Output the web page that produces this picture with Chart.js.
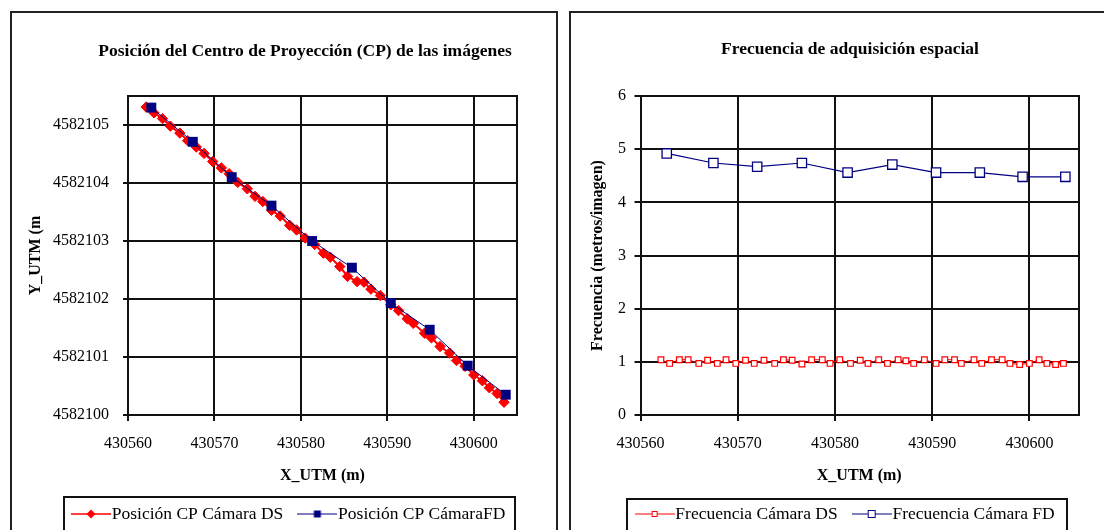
<!DOCTYPE html>
<html>
<head>
<meta charset="utf-8">
<script src="https://cdn.jsdelivr.net/npm/chart.js@4.4.1/dist/chart.umd.min.js"></script>
<style>
  html, body { margin: 0; padding: 0; background: #fff; }
  body { width: 1104px; height: 530px; position: relative; overflow: hidden; }
  .panel { position: absolute; top: 0; height: 530px; }
  #left { left: 0; width: 560px; }
  #right { left: 560px; width: 544px; }
</style>
</head>
<body>
<div class="panel" id="left"><canvas id="cpChart"></canvas></div>
<div class="panel" id="right"><canvas id="freqChart"></canvas></div>
<script>
// Valeurs
// Cámara DS : positions X/Y du centre de projection + fréquence
const dsX = [
  430562.1, 430563.0, 430564.0, 430564.9, 430566.0, 430566.9, 430567.9, 430568.8, 430569.8, 430570.8,
  430571.7, 430572.7, 430573.8, 430574.7, 430575.6, 430576.6, 430577.6, 430578.7, 430579.5, 430580.5,
  430581.6, 430582.6, 430583.4, 430584.5, 430585.4, 430586.5, 430587.3, 430588.1, 430589.2, 430590.4,
  430591.3, 430592.3, 430593.0, 430594.3, 430595.1, 430596.1, 430597.2, 430598.0, 430599.0, 430600.0,
  430601.0, 430601.8, 430602.7, 430603.5
];
const dsY = [
  4582105.31, 4582105.21, 4582105.11, 4582104.98, 4582104.86, 4582104.73, 4582104.62, 4582104.51, 4582104.37, 4582104.26,
  4582104.16, 4582104.01, 4582103.90, 4582103.77, 4582103.68, 4582103.53, 4582103.43, 4582103.27, 4582103.19, 4582103.05,
  4582102.94, 4582102.79, 4582102.72, 4582102.56, 4582102.39, 4582102.30, 4582102.29, 4582102.17, 4582102.06, 4582101.90,
  4582101.80, 4582101.66, 4582101.58, 4582101.41, 4582101.33, 4582101.18, 4582101.07, 4582100.94, 4582100.84, 4582100.69,
  4582100.59, 4582100.47, 4582100.37, 4582100.22
];
const dsFreq = [
  1.04, 0.97, 1.04, 1.04, 0.97, 1.03, 0.97, 1.04, 0.97, 1.03,
  0.97, 1.03, 0.97, 1.04, 1.03, 0.96, 1.04, 1.04, 0.97, 1.04,
  0.97, 1.03, 0.97, 1.04, 0.97, 1.04, 1.02, 0.97, 1.04, 0.97,
  1.04, 1.04, 0.97, 1.04, 0.97, 1.04, 1.04, 0.97, 0.95, 0.97,
  1.04, 0.97, 0.95, 0.97
];

// Cámara FD
const fdX = [430562.7, 430567.5, 430572.0, 430576.6, 430581.3, 430585.9, 430590.4, 430594.9, 430599.3, 430603.7];
const fdY = [4582105.30, 4582104.71, 4582104.10, 4582103.61, 4582103.00, 4582102.54, 4582101.93, 4582101.47, 4582100.85, 4582100.35];
const fdFreq = [4.92, 4.74, 4.67, 4.74, 4.56, 4.71, 4.56, 4.56, 4.48, 4.48];

const cpLabels = ['Posición CP Cámara DS', 'Posición CP CámaraFD'];
const freqLabels = ['Frecuencia Cámara DS', 'Frecuencia Cámara FD'];

const RED = '#ff0000';
const NAVY = '#000080';
const INK = '#111';
const SERIF = '"Liberation Serif", "DejaVu Serif", serif';
const LEGEND_SIZE = 17.5;
const LEGEND_PAD = 22;

Chart.defaults.font.family = SERIF;
Chart.defaults.color = '#000';

const pts = (xs, ys) => xs.map((x, i) => ({ x, y: ys[i] }));

/**
 * Petit canvas "ligne + marqueur" utilisé comme symbole de légende
 */
function legendSample(color, shape, lineWidth) {
  const c = document.createElement('canvas');
  c.width = 40;
  c.height = 16;
  const g = c.getContext('2d');
  g.strokeStyle = color;
  g.lineWidth = lineWidth;
  g.beginPath();
  g.moveTo(0, 8);
  g.lineTo(40, 8);
  g.stroke();
  g.lineWidth = 1;
  if (shape === 'diamond') {
    g.fillStyle = color;
    g.beginPath();
    g.moveTo(20, 3.5); g.lineTo(24.5, 8); g.lineTo(20, 12.5); g.lineTo(15.5, 8);
    g.closePath();
    g.fill();
  } else if (shape === 'square') {
    g.fillStyle = color;
    g.fillRect(16.5, 4.5, 7, 7);
  } else if (shape === 'openSmall') {
    g.fillStyle = '#fff';
    g.fillRect(17.5, 5.5, 5, 5);
    g.strokeRect(17.5, 5.5, 5, 5);
  } else {
    g.fillStyle = '#fff';
    g.fillRect(16.5, 4.5, 7, 7);
    g.strokeRect(16.5, 4.5, 7, 7);
  }
  return c;
}

/**
 * Cadre du panneau, bordure de la zone de tracé, placement titre / légende
 */
function panelPlugin(cfg) {
  return {
    id: 'panelDeco',
    afterLayout(chart) {
      const t = chart.titleBlock;
      if (t) {
        t.left = cfg.titleX - 300;
        t.right = cfg.titleX + 300;
        t.width = 600;
        t.top = cfg.titleY - t.height / 2;
        t.bottom = t.top + t.height;
      }
      const lg = chart.legend;
      if (lg) {
        lg.left = cfg.legendX - LEGEND_PAD;
        lg.right = lg.left + lg.width;
        lg.top = cfg.legendY - LEGEND_PAD - LEGEND_SIZE / 2;
        lg.bottom = lg.top + lg.height;
      }
    },
    beforeDraw(chart) {
      const ctx = chart.ctx;
      ctx.save();
      ctx.strokeStyle = '#222';
      ctx.lineWidth = 2;
      ctx.strokeRect(cfg.frame.x, cfg.frame.y, cfg.frame.w, cfg.frame.h);
      ctx.restore();
    },
    beforeDatasetsDraw(chart) {
      const { ctx, chartArea: a } = chart;
      ctx.save();
      ctx.strokeStyle = INK;
      ctx.lineWidth = 2;
      ctx.strokeRect(Math.round(a.left), Math.round(a.top), Math.round(a.right - a.left), Math.round(a.bottom - a.top));
      ctx.restore();
    },
    afterDraw(chart) {
      const hb = chart.legend && chart.legend.legendHitBoxes;
      if (!hb || !hb.length) return;
      const last = hb[hb.length - 1];
      const x1 = Math.round(hb[0].left - 15.5);
      const x2 = Math.round(last.left + last.width + cfg.legendRightPad);
      const ctx = chart.ctx;
      ctx.save();
      ctx.strokeStyle = INK;
      ctx.lineWidth = 2;
      ctx.strokeRect(x1, cfg.legendBoxTop, x2 - x1, 60);
      ctx.restore();
    }
  };
}

function xAxis() {
  return {
    type: 'linear',
    position: 'bottom',
    min: 430560,
    max: 430605,
    ticks: { stepSize: 10, includeBounds: false, padding: 13, font: { size: 16 }, color: '#000', callback: v => String(v) },
    grid: { color: INK, lineWidth: 2, tickLength: 6, tickColor: INK },
    border: { color: INK, width: 2 },
    title: { display: true, text: 'X_UTM (m)', color: '#000', font: { size: 16, weight: 'bold', lineHeight: 0.6 }, padding: 0 },
    afterFit(s) { s.height = 65.5; }
  };
}

function legendOptions(samples) {
  return {
    display: true,
    position: 'bottom',
    align: 'start',
    labels: {
      usePointStyle: true,
      pointStyleWidth: 24,
      padding: LEGEND_PAD,
      color: '#000',
      font: { size: LEGEND_SIZE },
      sort: (a, b) => a.datasetIndex - b.datasetIndex,
      generateLabels(chart) {
        const items = Chart.defaults.plugins.legend.labels.generateLabels(chart);
        items.forEach(it => { it.pointStyle = samples[it.datasetIndex]; });
        return items;
      }
    }
  };
}

function titleOptions(text) {
  return { display: true, text, color: '#000', font: { size: 17.5, weight: 'bold' }, padding: 0 };
}

// ---- Graphique 1 : position du centre de projection ----
new Chart(document.getElementById('cpChart'), {
  type: 'scatter',
  data: {
    datasets: [
      {
        label: cpLabels[0],
        data: pts(dsX, dsY),
        showLine: true,
        borderColor: RED,
        borderWidth: 2,
        pointStyle: 'rectRot',
        pointRadius: 5.2,
        pointBackgroundColor: RED,
        pointBorderColor: RED,
        pointBorderWidth: 1,
        order: 1
      },
      {
        label: cpLabels[1],
        data: pts(fdX, fdY),
        showLine: true,
        borderColor: NAVY,
        borderWidth: 1,
        pointStyle: 'rect',
        pointRadius: 7,
        pointBackgroundColor: NAVY,
        pointBorderColor: NAVY,
        pointBorderWidth: 0,
        order: 0
      }
    ]
  },
  options: {
    responsive: true,
    maintainAspectRatio: false,
    animation: false,
    events: [],
    layout: { padding: { top: 75, left: 20, right: 43, bottom: 0 } },
    scales: {
      x: xAxis(),
      y: {
        type: 'linear',
        position: 'left',
        min: 4582100,
        max: 4582105.5,
        ticks: { stepSize: 1, includeBounds: false, padding: 14, font: { size: 16 }, color: '#000', callback: v => String(v) },
        grid: { color: INK, lineWidth: 2, tickLength: 5, tickColor: INK },
        border: { color: INK, width: 2 },
        title: { display: true, text: 'Y_UTM (m', color: '#000', font: { size: 16, weight: 'bold' }, padding: { top: 6.4, bottom: 0 } },
        afterFit(s) { s.width = 108; }
      }
    },
    plugins: {
      title: titleOptions('Posición del Centro de Proyección (CP) de las imágenes'),
      legend: legendOptions([legendSample(RED, 'diamond', 1.5), legendSample(NAVY, 'square', 1)]),
      tooltip: { enabled: false }
    }
  },
  plugins: [panelPlugin({
    titleX: 305, titleY: 51,
    legendX: 79, legendY: 514,
    legendBoxTop: 497, legendRightPad: 10,
    frame: { x: 11, y: 12, w: 546, h: 540 }
  })]
});

// ---- Graphique 2 : fréquence d'acquisition ----
new Chart(document.getElementById('freqChart'), {
  type: 'scatter',
  data: {
    datasets: [
      {
        label: freqLabels[0],
        data: pts(dsX, dsFreq),
        showLine: true,
        borderColor: RED,
        borderWidth: 1,
        pointStyle: 'rect',
        pointRadius: 4,
        pointBackgroundColor: '#fff',
        pointBorderColor: RED,
        pointBorderWidth: 1.2
      },
      {
        label: freqLabels[1],
        data: pts(fdX, fdFreq),
        showLine: true,
        borderColor: NAVY,
        borderWidth: 1.2,
        pointStyle: 'rect',
        pointRadius: 6.6,
        pointBackgroundColor: '#fff',
        pointBorderColor: NAVY,
        pointBorderWidth: 1.3
      }
    ]
  },
  options: {
    responsive: true,
    maintainAspectRatio: false,
    animation: false,
    events: [],
    layout: { padding: { top: 75, left: 20, right: 26, bottom: 0 } },
    scales: {
      x: xAxis(),
      y: {
        type: 'linear',
        position: 'left',
        min: 0,
        max: 6,
        ticks: { stepSize: 1, includeBounds: false, padding: 8.5, font: { size: 16 }, color: '#000' },
        grid: { color: INK, lineWidth: 2, tickLength: 6, tickColor: INK },
        border: { color: INK, width: 2 },
        title: { display: true, text: 'Frecuencia (metros/imagen)', color: '#000', font: { size: 16, weight: 'bold' }, padding: { top: 8.4, bottom: 0 } },
        afterFit(s) { s.width = 60.5; }
      }
    },
    plugins: {
      title: titleOptions('Frecuencia de adquisición espacial'),
      legend: legendOptions([legendSample(RED, 'openSmall', 1), legendSample(NAVY, 'open', 1.2)]),
      tooltip: { enabled: false }
    }
  },
  plugins: [panelPlugin({
    titleX: 290, titleY: 49,
    legendX: 82.6, legendY: 514,
    legendBoxTop: 499, legendRightPad: 12,
    frame: { x: 10, y: 12, w: 560, h: 540 }
  })]
});
</script>
</body>
</html>
